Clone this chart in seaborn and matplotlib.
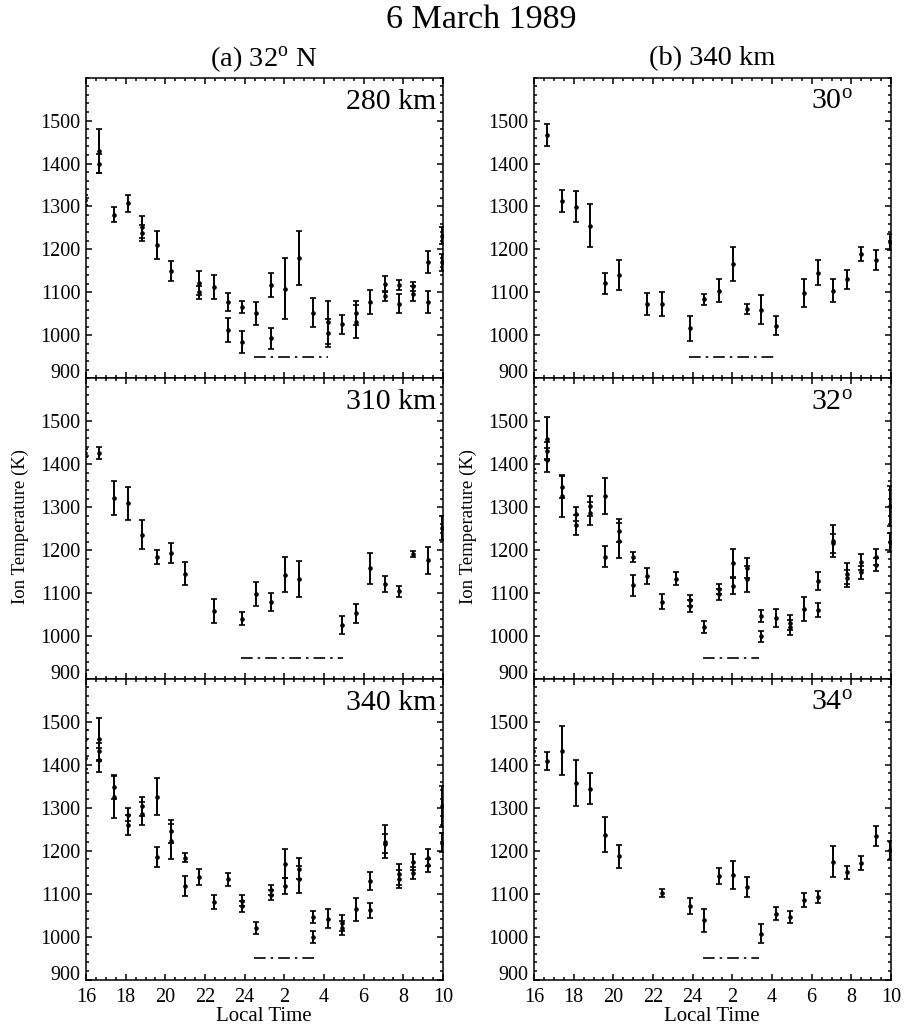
import matplotlib
matplotlib.use("Agg")
import matplotlib.pyplot as plt
import seaborn as sns
import pandas as pd
from matplotlib.ticker import MultipleLocator, FixedLocator

# ---------------- data (local time in hours past 16 LT, ion temperature K, error K) ----------------
# (a) 32 N, 280 km
t_280 = [15.96, 16.68, 16.68, 17.40, 18.12, 18.84, 18.84, 19.56, 20.27, 21.71, 21.71,
         22.43, 23.15, 23.15, 23.87, 23.87, 24.59, 25.31, 25.31, 26.03, 26.75, 27.46,
         28.18, 28.18, 28.90, 29.62, 29.62, 30.34, 31.06, 31.06, 31.78, 31.78, 32.50,
         32.50, 33.22, 33.22, 33.94, 33.94]
ti_280 = [1315, 1429, 1400, 1281, 1307, 1252, 1238, 1211, 1150, 1122, 1100,
          1112, 1078, 1013, 1066, 984, 1051, 1117, 993, 1109, 1180, 1053,
          1030, 1006, 1026, 1052, 1032, 1078, 1119, 1092, 1117, 1074, 1114,
          1097, 1170, 1078, 1232, 1170]
er_280 = [12, 52, 22, 18, 20, 26, 18, 33, 24, 28, 15,
          28, 21, 28, 13, 25, 26, 28, 25, 70, 62, 33,
          50, 33, 22, 28, 39, 28, 18, 12, 12, 23, 10,
          18, 26, 25, 20, 20]

# (a) 32 N, 310 km
t_310 = [15.96, 16.68, 17.40, 18.12, 18.84, 19.56, 20.27, 20.99, 22.43, 23.87, 24.59,
         25.31, 26.03, 26.75, 28.90, 29.62, 30.34, 31.06, 31.78, 32.50, 33.22, 33.94]
ti_310 = [1426, 1426, 1321, 1309, 1236, 1184, 1193, 1145, 1059, 1040, 1098,
          1079, 1143, 1133, 1026, 1053, 1158, 1121, 1104, 1191, 1176, 1251]
er_310 = [10, 13, 39, 39, 33, 17, 23, 27, 28, 15, 27,
          21, 40, 41, 21, 22, 36, 18, 12, 7, 31, 28]

# 340 km at 32 N (shown in both columns)
t_340 = [15.96, 15.96, 16.68, 16.68, 16.68, 17.40, 17.40, 18.12, 18.12, 18.84, 18.84,
         19.56, 19.56, 20.27, 20.27, 20.99, 20.99, 21.71, 22.43, 23.15, 23.87, 23.87,
         24.59, 25.31, 25.31, 26.03, 26.03, 26.75, 26.75, 27.46, 27.46, 28.18, 28.90,
         28.90, 29.62, 30.34, 30.34, 31.06, 31.06, 31.78, 31.78, 32.50, 32.50, 33.22,
         33.22, 33.94, 33.94]
ti_340 = [1460, 1415, 1459, 1431, 1410, 1347, 1326, 1284, 1259, 1303, 1286,
          1326, 1185, 1245, 1222, 1184, 1118, 1139, 1080, 1133, 1083, 1070,
          1021, 1109, 1097, 1170, 1117, 1158, 1133, 1046, 999, 1042, 1031,
          1020, 1063, 1129, 1061, 1221, 1216, 1145, 1134, 1173, 1148, 1184,
          1166, 1303, 1218]
er_340 = [20, 25, 50, 20, 28, 26, 49, 16, 23, 23, 27,
          43, 24, 27, 41, 11, 24, 19, 17, 15, 13, 13,
          14, 12, 12, 33, 19, 24, 31, 14, 13, 22, 18,
          17, 27, 21, 17, 38, 22, 25, 20, 19, 15, 19,
          15, 47, 22]

# (b) 340 km, 30 deg
t_30 = [16.68, 17.40, 18.12, 18.84, 19.56, 20.27, 21.71, 22.43, 23.87, 24.59, 25.31,
        26.03, 26.75, 27.46, 28.18, 29.62, 30.34, 31.06, 31.78, 32.50, 33.22, 33.94]
ti_30 = [1466, 1313, 1299, 1255, 1121, 1140, 1073, 1073, 1016, 1084, 1104,
         1166, 1061, 1060, 1022, 1099, 1146, 1104, 1130, 1189, 1175, 1218]
er_30 = [25, 26, 36, 50, 24, 35, 26, 28, 30, 13, 27,
         39, 12, 33, 22, 33, 29, 27, 21, 16, 23, 19]

# (b) 340 km, 34 deg
t_34 = [15.96, 16.68, 17.40, 18.12, 18.84, 19.56, 20.27, 22.43, 23.87, 24.59, 25.31,
        26.03, 26.75, 27.46, 28.18, 28.90, 29.62, 30.34, 31.06, 31.78, 32.50, 33.22, 33.94]
ti_34 = [1433, 1408, 1433, 1357, 1344, 1237, 1187, 1101, 1071, 1038, 1141,
         1143, 1115, 1007, 1053, 1046, 1085, 1091, 1174, 1150, 1172, 1234, 1201]
er_34 = [25, 21, 56, 54, 36, 41, 27, 10, 19, 27, 18,
         32, 24, 22, 15, 14, 16, 14, 36, 15, 16, 23, 22]

# night intervals (dash-dot bars), local hours, and their level in K
night_280 = [24.47, 28.19]
night_310 = [23.80, 28.98]
night_340 = [24.49, 27.73]
night_30 = [23.83, 28.24]
night_32 = [24.52, 27.36]
night_34 = [24.52, 27.36]
night_level = 950

xticks = [16, 18, 20, 22, 24, 26, 28, 30, 32, 34]
xticklabels = ["16", "18", "20", "22", "24", "2", "4", "6", "8", "10"]
yticks = [900, 1000, 1100, 1200, 1300, 1400, 1500]
yticklabels = ["900", "1000", "1100", "1200", "1300", "1400", "1500"]

# ---------------- style ----------------
sns.set_theme(style="ticks")
plt.rcParams['font.family'] = ['Liberation Serif', 'DejaVu Serif']
plt.rcParams['mathtext.fontset'] = 'custom'
plt.rcParams['mathtext.rm'] = 'Liberation Serif'
plt.rcParams['mathtext.it'] = 'Liberation Serif:italic'
plt.rcParams['axes.linewidth'] = 1.1
plt.rcParams['axes.edgecolor'] = 'black'
plt.rcParams['text.color'] = 'black'
plt.rcParams['xtick.color'] = 'black'
plt.rcParams['ytick.color'] = 'black'

fig = plt.figure(figsize=(9.05, 10.31), dpi=100)
W, H = 905.0, 1031.0

col_x = [86 / W, 534 / W]
ax_w = 357 / W
ax_h = 300.7 / H
row_y = [(H - 378.3) / H, (H - 679.0) / H, (H - 979.5) / H]

panels = [
    (0, 0, t_280, ti_280, er_280, night_280, "280 km", 0.982),
    (0, 1, t_310, ti_310, er_310, night_310, "310 km", 0.982),
    (0, 2, t_340, ti_340, er_340, night_340, "340 km", 0.982),
    (1, 0, t_30, ti_30, er_30, night_30, "30$^{\\rm o}$", 0.894),
    (1, 1, t_340, ti_340, er_340, night_32, "32$^{\\rm o}$", 0.894),
    (1, 2, t_34, ti_34, er_34, night_34, "34$^{\\rm o}$", 0.894),
]

for col, row, t, ti, er, night, label, lx in panels:
    ax = fig.add_axes([col_x[col], row_y[row], ax_w, ax_h])
    df = pd.DataFrame({"lt": t, "ti": ti, "err": er})
    ax.errorbar(df["lt"], df["ti"], yerr=df["err"], fmt="none", ecolor="black",
                elinewidth=1.4, capsize=2.0, capthick=1.2, zorder=2)
    sns.scatterplot(data=df, x="lt", y="ti", ax=ax, color="black", s=11,
                    edgecolor="black", linewidth=0, legend=False, zorder=3)
    ax.plot(night, [night_level, night_level], color="black", lw=1.2,
            linestyle=(0, (7, 3, 1.5, 3)))
    ax.set_xlim(16, 34)
    ax.set_ylim(900, 1600)
    ax.xaxis.set_major_locator(FixedLocator(xticks))
    ax.set_xticklabels(xticklabels)
    ax.xaxis.set_minor_locator(MultipleLocator(0.5))
    ax.yaxis.set_major_locator(FixedLocator(yticks))
    ax.set_yticklabels(yticklabels)
    ax.yaxis.set_minor_locator(MultipleLocator(20))
    ax.tick_params(which="both", direction="in", top=True, right=True,
                   width=1.1, labelsize=14.5)
    ax.tick_params(which="major", length=4.5)
    ax.tick_params(which="minor", length=2.3)
    ax.tick_params(axis="y", pad=4)
    ax.tick_params(axis="x", pad=6)
    if row != 2:
        ax.tick_params(labelbottom=False)
    ax.set_xlabel("")
    ax.set_ylabel("")
    ax.yaxis.get_major_ticks()[0].label1.set_va("baseline")
    for s in ax.spines.values():
        s.set_visible(True)
        s.set_linewidth(1.1)
    ax.text(lx, 0.92, label, transform=ax.transAxes, ha="right", va="center",
            fontsize=21.5)

fig.text(481.5 / W, 1 - 27.5 / H, "6 March 1989", ha="center", va="baseline", fontsize=24.5)
fig.text(264 / W, 1 - 59 / H, "(a) 32$^{\\rm o}$ N", ha="center", va="center", fontsize=20.5)
fig.text(712 / W, 1 - 59 / H, "(b) 340 km", ha="center", va="center", fontsize=20.5)
for cx in [20.5, 468.5]:
    fig.text(cx / W, 1 - 526 / H, "Ion Temperature (K)", rotation=90,
             ha="center", va="center", fontsize=13.5)
for cx in [264, 712]:
    fig.text(cx / W, 1 - 1016.5 / H, "Local Time", ha="center", va="center", fontsize=15)

fig.savefig("out.png", dpi=100, facecolor="white")
